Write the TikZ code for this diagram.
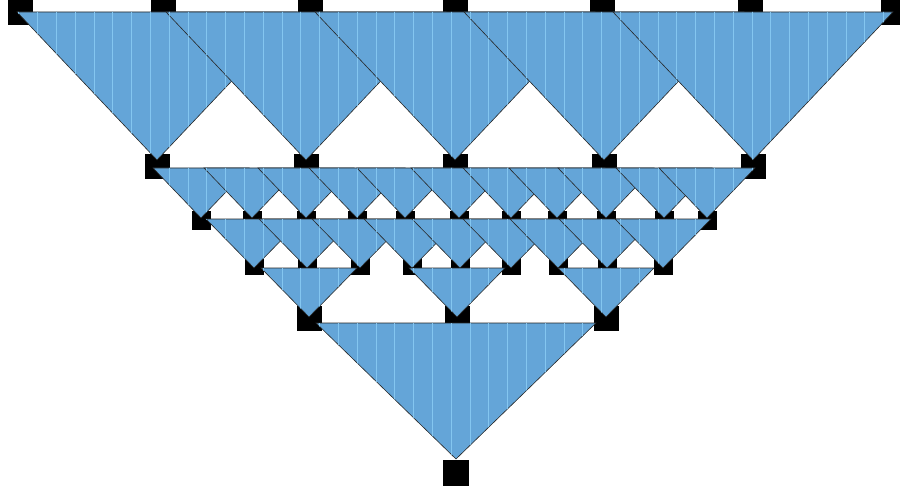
\documentclass[tikz,border=0pt]{standalone}
\usetikzlibrary{patterns.meta}

\definecolor{triblue}{RGB}{100,165,216}
\definecolor{stripe}{RGB}{132,198,240}

\begin{document}
\begin{tikzpicture}[
  x=1pt, y=-1pt,
  sq/.style={fill=black, inner sep=0pt, minimum size=25pt},
  sqs/.style={sq, minimum size=19pt},
  tri/.style={fill=triblue, draw=black!85, line width=0.6pt,
    postaction={pattern={Lines[angle=90,distance=18.8pt,line width=1pt]}, pattern color=stripe}},
]
\useasboundingbox (0,0) rectangle (900,492);
\clip (0,0) rectangle (900,492);
% black squares, row by row
\foreach \x [count=\i] in {20,163,310,455,602,750,893}
  \node[sq] (a\i) at (\x,12.5) {};
\foreach \x [count=\i] in {157,306,455,604,753}
  \node[sq] (b\i) at (\x,167) {};
\foreach \x [count=\i] in {201,252,306,357,405,459,511,557,606,664,707}
  \node[sqs] (c\i) at (\x,220) {};
\foreach \x [count=\i] in {254,307,360,412,460,511,558,607,663}
  \node[sqs] (d\i) at (\x,265) {};
\foreach \x [count=\i] in {309,457,606}
  \node[sq] (e\i) at (\x,318) {};
\node[sq, minimum size=26pt] (f) at (456,473) {};
% wide triangles into the second row
\foreach \i in {1,...,5}
  \filldraw[tri] ([yshift=7pt]b\i.center) -- ++(-140,-148) -- ++(280,0) -- cycle;
% small triangles into the third row
\foreach \i in {1,...,11}
  \filldraw[tri] ([yshift=2pt]c\i.center) -- ++(-48,-50) -- ++(96,0) -- cycle;
% small triangles into the fourth row
\foreach \i in {1,...,9}
  \filldraw[tri] ([yshift=-3pt]d\i.center) -- ++(-48,-49) -- ++(96,0) -- cycle;
% three triangles into the fifth row
\foreach \i in {1,2,3}
  \filldraw[tri] ([yshift=1pt]e\i.center) -- ++(-48,-49) -- ++(96,0) -- cycle;
% last wide triangle
\filldraw[tri] ([yshift=14pt]f.center) -- ++(-140,-136) -- ++(280,0) -- cycle;
\end{tikzpicture}
\end{document}
